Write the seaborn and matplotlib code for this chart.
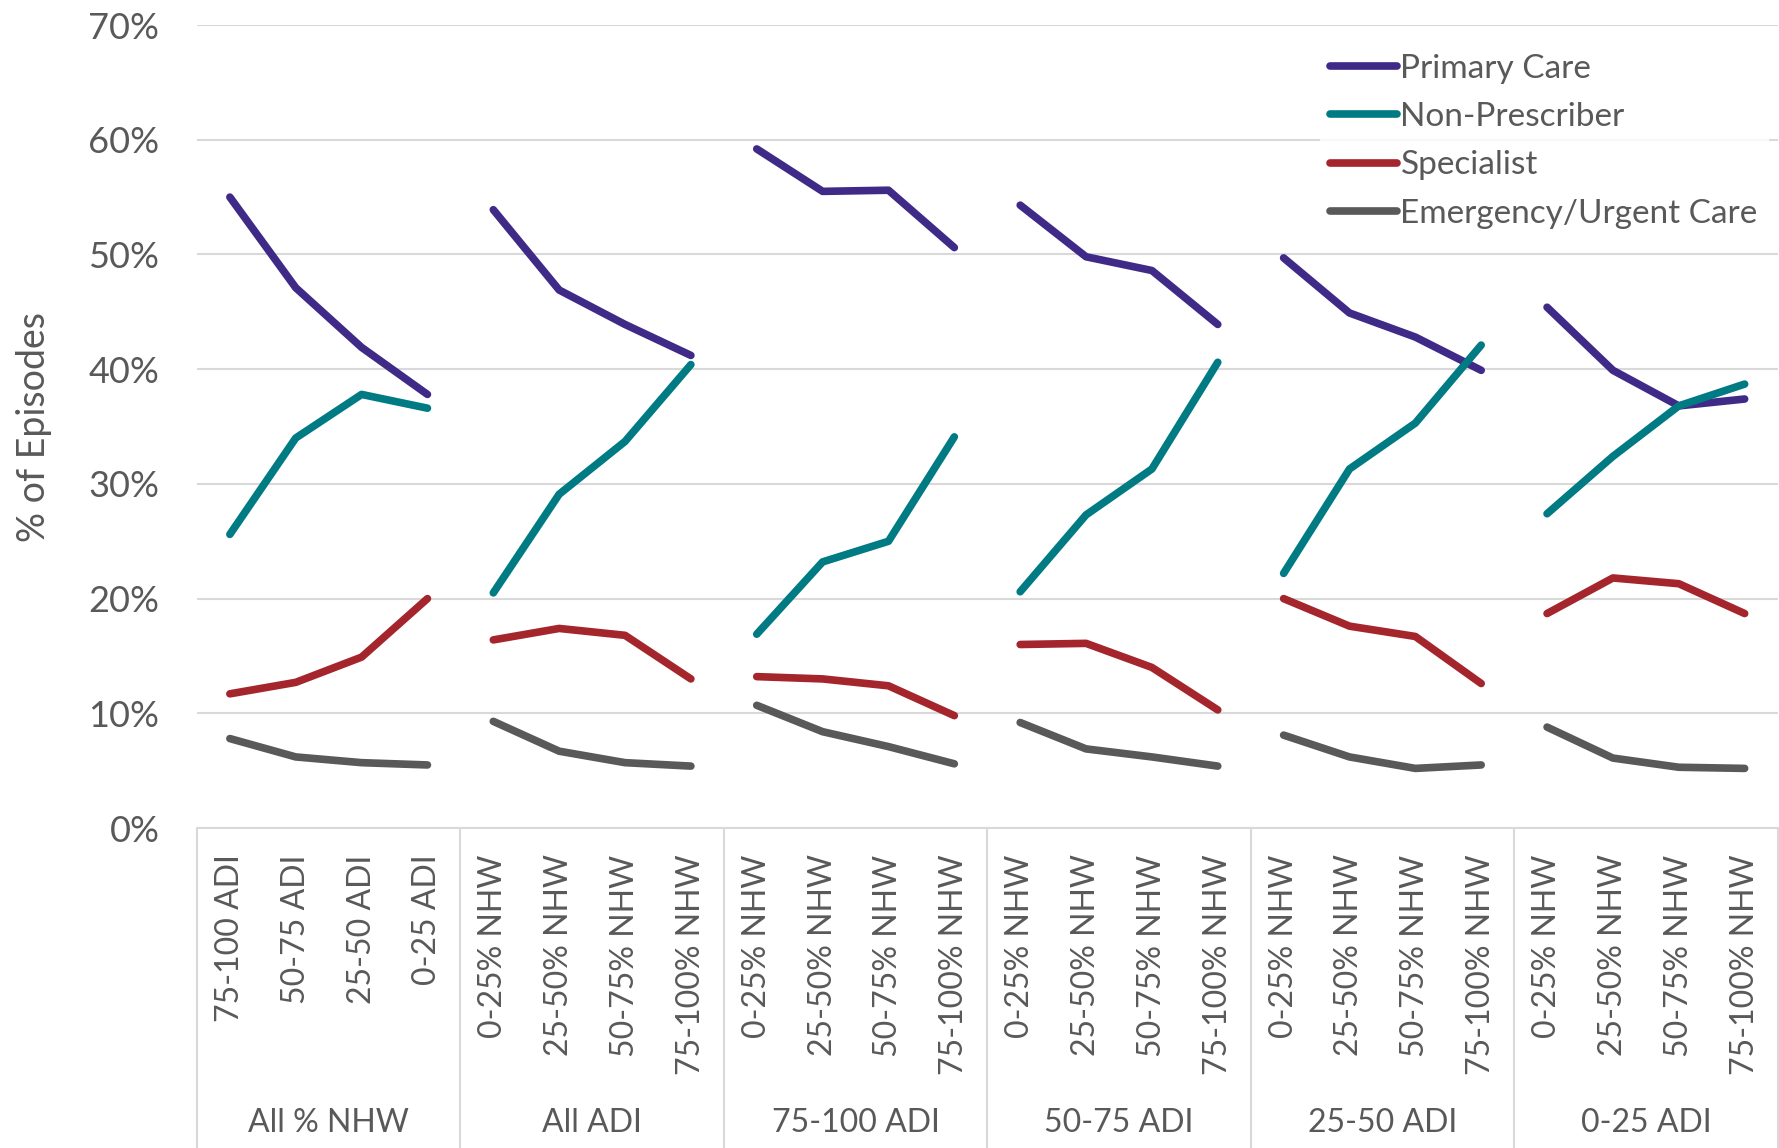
import numpy as np
import pandas as pd
import matplotlib
matplotlib.use("Agg")
import matplotlib.pyplot as plt
import seaborn as sns
from matplotlib.lines import Line2D

# groups on the outer axis level and categories inside each
groups = ["All % NHW", "All ADI", "75-100 ADI", "50-75 ADI", "25-50 ADI", "0-25 ADI"]
adi_cats = ["75-100 ADI", "50-75 ADI", "25-50 ADI", "0-25 ADI"]
nhw_cats = ["0-25% NHW", "25-50% NHW", "50-75% NHW", "75-100% NHW"]
categories = adi_cats + nhw_cats * 5

series_names = ["Primary Care", "Non-Prescriber", "Specialist", "Emergency/Urgent Care"]
colors = ["#3F2A87", "#007B83", "#A4262C", "#595959"]

# % of episodes, 24 values each (6 groups x 4)
primary_care = [55.0, 47.1, 41.9, 37.8,
                53.9, 46.9, 43.9, 41.2,
                59.2, 55.5, 55.6, 50.6,
                54.3, 49.8, 48.6, 43.9,
                49.7, 44.9, 42.8, 39.9,
                45.4, 39.9, 36.8, 37.4]
non_prescriber = [25.6, 34.0, 37.8, 36.6,
                  20.5, 29.1, 33.7, 40.4,
                  16.9, 23.2, 25.0, 34.1,
                  20.6, 27.3, 31.3, 40.6,
                  22.2, 31.3, 35.3, 42.1,
                  27.4, 32.4, 36.8, 38.7]
specialist = [11.7, 12.7, 14.9, 20.0,
              16.4, 17.4, 16.8, 13.0,
              13.2, 13.0, 12.4, 9.8,
              16.0, 16.1, 14.0, 10.3,
              20.0, 17.6, 16.7, 12.6,
              18.7, 21.8, 21.3, 18.7]
emergency = [7.8, 6.2, 5.7, 5.5,
             9.3, 6.7, 5.7, 5.4,
             10.7, 8.4, 7.1, 5.6,
             9.2, 6.9, 6.2, 5.4,
             8.1, 6.2, 5.2, 5.5,
             8.8, 6.1, 5.3, 5.2]

all_values = [primary_care, non_prescriber, specialist, emergency]

rows = []
for name, vals in zip(series_names, all_values):
    for i, v in enumerate(vals):
        rows.append({"pos": i, "value": v / 100, "series": name,
                     "group": groups[i // 4]})
df = pd.DataFrame(rows)

text_color = "#595959"
grid_color = "#D9D9D9"

sns.set_style("white")
plt.rcParams["font.family"] = ["Lato", "DejaVu Sans"]

fig = plt.figure(figsize=(17.79, 11.48), dpi=100)
ax = fig.add_axes([0.1107, 0.2787, 0.8885, 0.6995])

sns.lineplot(data=df, x="pos", y="value", hue="series", units="group",
             estimator=None, palette=colors, hue_order=series_names,
             linewidth=5.5, ax=ax, legend=False)
for ln in ax.lines:
    ln.set_solid_capstyle("round")
    ln.set_solid_joinstyle("round")

ax.set_xlim(-0.5, len(categories) - 0.5)
ax.set_ylim(0, 0.7)
ax.set_yticks(np.arange(0, 0.71, 0.1))
ax.set_yticklabels([f"{int(round(t * 100))}%" for t in np.arange(0, 0.71, 0.1)])
ax.yaxis.grid(True, color=grid_color, linewidth=1.5)
ax.set_axisbelow(True)
for s in ax.spines.values():
    s.set_visible(False)

ax.set_xticks(range(len(categories)))
ax.set_xticklabels(categories, rotation=90, va="top", ha="center")
ax.tick_params(axis="x", length=0, pad=19, labelsize=23, labelcolor=text_color)
ax.tick_params(axis="y", length=0, pad=27, labelsize=26, labelcolor=text_color)
ax.set_xlabel("")
ax.set_ylabel("% of Episodes", fontsize=27, color=text_color, labelpad=26)

# multi-level category axis: separators and group names
trans = ax.get_xaxis_transform()
ax.plot([-0.5, len(categories) - 0.5], [0, 0], color=grid_color, lw=1.5,
        transform=trans, clip_on=False)
for b in np.arange(-0.5, len(categories), 4):
    ax.plot([b, b], [0, -0.40], color=grid_color, lw=1.5,
            transform=trans, clip_on=False)
for gi, g in enumerate(groups):
    ax.text(gi * 4 + 1.5, -0.367, g, transform=trans, ha="center", va="center",
            fontsize=23, color=text_color)

handles = [Line2D([0], [0], color=c, lw=5.5, solid_capstyle="round") for c in colors]
leg = ax.legend(handles, series_names, loc="upper right", bbox_to_anchor=(0.998, 0.985),
                frameon=True, fontsize=24, handlelength=2.0, handletextpad=0.1,
                labelspacing=0.55, borderpad=0.3, borderaxespad=0.2)
leg.get_frame().set_facecolor("white")
leg.get_frame().set_edgecolor("white")
for t in leg.get_texts():
    t.set_color(text_color)

fig.savefig("out.png", dpi=100)
